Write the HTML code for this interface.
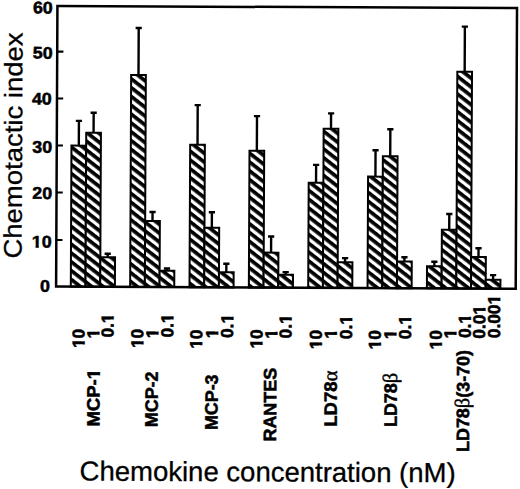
<!DOCTYPE html><html><head><meta charset="utf-8"><title>Chemotactic index chart</title><style>html,body{margin:0;padding:0;background:#fff;width:520px;height:489px;overflow:hidden}svg{display:block}text{font-family:"Liberation Sans",sans-serif}</style></head><body>
<svg width="520" height="489" viewBox="0 0 520 489">
<defs><pattern id="h" patternUnits="userSpaceOnUse" width="40" height="6.972" patternTransform="rotate(37.60) translate(0 2.413)"><rect x="0" y="0" width="40" height="6.972" fill="#fff"/><rect x="0" y="0" width="40" height="3.695" fill="#000"/></pattern></defs>
<rect width="520" height="489" fill="#fff"/>
<g transform="rotate(0.270 260.0 245.0)">
<path d="M78.35 146.46V121.76M75.25 121.76H81.45" stroke="#000" stroke-width="2.4" fill="none"/>
<rect x="71.00" y="146.46" width="14.70" height="141.04" fill="url(#h)" stroke="#000" stroke-width="2.0"/>
<path d="M93.05 133.49V113.59M89.95 113.59H96.15" stroke="#000" stroke-width="2.4" fill="none"/>
<rect x="85.70" y="133.49" width="14.70" height="154.01" fill="url(#h)" stroke="#000" stroke-width="2.0"/>
<path d="M107.75 258.02V254.42M104.65 254.42H110.85" stroke="#000" stroke-width="2.4" fill="none"/>
<rect x="100.40" y="258.02" width="14.70" height="29.48" fill="url(#h)" stroke="#000" stroke-width="2.0"/>
<path d="M137.70 75.58V28.58M134.60 28.58H140.80" stroke="#000" stroke-width="2.4" fill="none"/>
<rect x="130.35" y="75.58" width="14.70" height="211.92" fill="url(#h)" stroke="#000" stroke-width="2.0"/>
<path d="M152.40 221.51V212.51M149.30 212.51H155.50" stroke="#000" stroke-width="2.4" fill="none"/>
<rect x="145.05" y="221.51" width="14.70" height="65.99" fill="url(#h)" stroke="#000" stroke-width="2.0"/>
<path d="M167.10 271.24V268.94M164.00 268.94H170.20" stroke="#000" stroke-width="2.4" fill="none"/>
<rect x="159.75" y="271.24" width="14.70" height="16.26" fill="url(#h)" stroke="#000" stroke-width="2.0"/>
<path d="M197.05 145.00V105.40M193.95 105.40H200.15" stroke="#000" stroke-width="2.4" fill="none"/>
<rect x="189.70" y="145.00" width="14.70" height="142.50" fill="url(#h)" stroke="#000" stroke-width="2.0"/>
<path d="M211.75 228.03V212.43M208.65 212.43H214.85" stroke="#000" stroke-width="2.4" fill="none"/>
<rect x="204.40" y="228.03" width="14.70" height="59.47" fill="url(#h)" stroke="#000" stroke-width="2.0"/>
<path d="M226.45 272.36V263.86M223.35 263.86H229.55" stroke="#000" stroke-width="2.4" fill="none"/>
<rect x="219.10" y="272.36" width="14.70" height="15.14" fill="url(#h)" stroke="#000" stroke-width="2.0"/>
<path d="M256.40 150.82V116.12M253.30 116.12H259.50" stroke="#000" stroke-width="2.4" fill="none"/>
<rect x="249.05" y="150.82" width="14.70" height="136.68" fill="url(#h)" stroke="#000" stroke-width="2.0"/>
<path d="M271.10 252.55V236.45M268.00 236.45H274.20" stroke="#000" stroke-width="2.4" fill="none"/>
<rect x="263.75" y="252.55" width="14.70" height="34.95" fill="url(#h)" stroke="#000" stroke-width="2.0"/>
<path d="M285.80 274.58V271.98M282.70 271.98H288.90" stroke="#000" stroke-width="2.4" fill="none"/>
<rect x="278.45" y="274.58" width="14.70" height="12.92" fill="url(#h)" stroke="#000" stroke-width="2.0"/>
<path d="M315.75 182.44V164.64M312.65 164.64H318.85" stroke="#000" stroke-width="2.4" fill="none"/>
<rect x="308.40" y="182.44" width="14.70" height="105.06" fill="url(#h)" stroke="#000" stroke-width="2.0"/>
<path d="M330.45 128.37V113.07M327.35 113.07H333.55" stroke="#000" stroke-width="2.4" fill="none"/>
<rect x="323.10" y="128.37" width="14.70" height="159.13" fill="url(#h)" stroke="#000" stroke-width="2.0"/>
<path d="M345.15 261.80V257.70M342.05 257.70H348.25" stroke="#000" stroke-width="2.4" fill="none"/>
<rect x="337.80" y="261.80" width="14.70" height="25.70" fill="url(#h)" stroke="#000" stroke-width="2.0"/>
<path d="M375.10 176.06V149.66M372.00 149.66H378.20" stroke="#000" stroke-width="2.4" fill="none"/>
<rect x="367.75" y="176.06" width="14.70" height="111.44" fill="url(#h)" stroke="#000" stroke-width="2.0"/>
<path d="M389.80 155.59V128.69M386.70 128.69H392.90" stroke="#000" stroke-width="2.4" fill="none"/>
<rect x="382.45" y="155.59" width="14.70" height="131.91" fill="url(#h)" stroke="#000" stroke-width="2.0"/>
<path d="M404.50 260.82V256.62M401.40 256.62H407.60" stroke="#000" stroke-width="2.4" fill="none"/>
<rect x="397.15" y="260.82" width="14.70" height="26.68" fill="url(#h)" stroke="#000" stroke-width="2.0"/>
<path d="M434.45 265.48V260.98M431.35 260.98H437.55" stroke="#000" stroke-width="2.4" fill="none"/>
<rect x="427.10" y="265.48" width="14.70" height="22.02" fill="url(#h)" stroke="#000" stroke-width="2.0"/>
<path d="M449.15 228.91V213.11M446.05 213.11H452.25" stroke="#000" stroke-width="2.4" fill="none"/>
<rect x="441.80" y="228.91" width="14.70" height="58.59" fill="url(#h)" stroke="#000" stroke-width="2.0"/>
<path d="M463.85 70.84V25.64M460.75 25.64H466.95" stroke="#000" stroke-width="2.4" fill="none"/>
<rect x="456.50" y="70.84" width="14.70" height="216.66" fill="url(#h)" stroke="#000" stroke-width="2.0"/>
<path d="M478.55 255.97V247.27M475.45 247.27H481.65" stroke="#000" stroke-width="2.4" fill="none"/>
<rect x="471.20" y="255.97" width="14.70" height="31.53" fill="url(#h)" stroke="#000" stroke-width="2.0"/>
<path d="M493.25 278.70V274.00M490.15 274.00H496.35" stroke="#000" stroke-width="2.4" fill="none"/>
<rect x="485.90" y="278.70" width="14.70" height="8.80" fill="url(#h)" stroke="#000" stroke-width="2.0"/>
<rect x="56.30" y="6.90" width="459.60" height="280.60" fill="none" stroke="#000" stroke-width="2.5"/>
<path d="M56.30 52.64H62.50" stroke="#000" stroke-width="2.2"/>
<path d="M56.30 99.44H62.50" stroke="#000" stroke-width="2.2"/>
<path d="M56.30 146.44H62.50" stroke="#000" stroke-width="2.2"/>
<path d="M56.30 193.44H62.50" stroke="#000" stroke-width="2.2"/>
<path d="M56.30 240.94H62.50" stroke="#000" stroke-width="2.2"/>
</g>
<g transform="translate(49.87 291.82) rotate(0.270) scale(1.000 0.950)"><text x="-9.90" y="0" font-size="17.80" font-weight="bold" stroke="#000" stroke-width="0.55">0</text>
</g>
<g transform="translate(51.61 247.56) rotate(0.270) scale(1.000 0.950)"><text x="-19.80" y="0" font-size="17.80" font-weight="bold" stroke="#000" stroke-width="0.55">10</text>
<rect x="-19.68" y="-2.92" width="3.61" height="4.62" fill="#fff"/>
<rect x="-12.78" y="-2.92" width="3.38" height="4.62" fill="#fff"/>
</g>
<g transform="translate(52.06 198.95) rotate(0.270) scale(1.000 0.950)"><text x="-19.80" y="0" font-size="17.80" font-weight="bold" stroke="#000" stroke-width="0.55">20</text>
</g>
<g transform="translate(52.12 152.91) rotate(0.270) scale(1.000 0.950)"><text x="-19.80" y="0" font-size="17.80" font-weight="bold" stroke="#000" stroke-width="0.55">30</text>
</g>
<g transform="translate(51.73 104.62) rotate(0.270) scale(1.000 0.950)"><text x="-19.80" y="0" font-size="17.80" font-weight="bold" stroke="#000" stroke-width="0.55">40</text>
</g>
<g transform="translate(52.54 58.69) rotate(0.270) scale(1.000 0.950)"><text x="-19.80" y="0" font-size="17.80" font-weight="bold" stroke="#000" stroke-width="0.55">50</text>
</g>
<g transform="translate(52.72 13.44) rotate(0.270) scale(1.000 0.950)"><text x="-19.80" y="0" font-size="17.80" font-weight="bold" stroke="#000" stroke-width="0.55">60</text>
</g>
<text transform="translate(21.50 258.60) rotate(-89.730) scale(1 0.92)" font-size="27.50" stroke="#000" stroke-width="0.30">Chemotactic index</text>
<text transform="translate(79.60 480.50) rotate(0.270)" font-size="27.50" stroke="#000" stroke-width="0.30">Chemokine concentration (nM)</text>
<g transform="translate(84.55 348.08) rotate(-89.730)"><text x="0.00" y="0" font-size="17.30" font-weight="bold" stroke="#000" stroke-width="0.55">10</text>
<rect x="0.09" y="-2.87" width="3.52" height="4.57" fill="#fff"/>
<rect x="6.84" y="-2.87" width="3.30" height="4.57" fill="#fff"/>
</g>
<g transform="translate(99.25 338.46) rotate(-89.730)"><text x="0.00" y="0" font-size="17.30" font-weight="bold" stroke="#000" stroke-width="0.55">1</text>
<rect x="0.09" y="-2.87" width="3.52" height="4.57" fill="#fff"/>
<rect x="6.84" y="-2.87" width="3.30" height="4.57" fill="#fff"/>
</g>
<g transform="translate(113.50 337.57) rotate(-89.730)"><text x="0.00" y="0" font-size="17.30" font-weight="bold" stroke="#000" stroke-width="0.55">0.1</text>
<rect x="14.52" y="-2.87" width="3.52" height="4.57" fill="#fff"/>
<rect x="21.26" y="-2.87" width="3.30" height="4.57" fill="#fff"/>
</g>
<g transform="translate(143.22 348.08) rotate(-89.730)"><text x="0.00" y="0" font-size="17.30" font-weight="bold" stroke="#000" stroke-width="0.55">10</text>
<rect x="0.09" y="-2.87" width="3.52" height="4.57" fill="#fff"/>
<rect x="6.84" y="-2.87" width="3.30" height="4.57" fill="#fff"/>
</g>
<g transform="translate(158.15 338.25) rotate(-89.730)"><text x="0.00" y="0" font-size="17.30" font-weight="bold" stroke="#000" stroke-width="0.55">1</text>
<rect x="0.09" y="-2.87" width="3.52" height="4.57" fill="#fff"/>
<rect x="6.84" y="-2.87" width="3.30" height="4.57" fill="#fff"/>
</g>
<g transform="translate(173.30 337.57) rotate(-89.730)"><text x="0.00" y="0" font-size="17.30" font-weight="bold" stroke="#000" stroke-width="0.55">0.1</text>
<rect x="14.52" y="-2.87" width="3.52" height="4.57" fill="#fff"/>
<rect x="21.26" y="-2.87" width="3.30" height="4.57" fill="#fff"/>
</g>
<g transform="translate(202.11 348.77) rotate(-89.730)"><text x="0.00" y="0" font-size="17.30" font-weight="bold" stroke="#000" stroke-width="0.55">10</text>
<rect x="0.09" y="-2.87" width="3.52" height="4.57" fill="#fff"/>
<rect x="6.84" y="-2.87" width="3.30" height="4.57" fill="#fff"/>
</g>
<g transform="translate(217.95 338.25) rotate(-89.730)"><text x="0.00" y="0" font-size="17.30" font-weight="bold" stroke="#000" stroke-width="0.55">1</text>
<rect x="0.09" y="-2.87" width="3.52" height="4.57" fill="#fff"/>
<rect x="6.84" y="-2.87" width="3.30" height="4.57" fill="#fff"/>
</g>
<g transform="translate(233.10 338.02) rotate(-89.730)"><text x="0.00" y="0" font-size="17.30" font-weight="bold" stroke="#000" stroke-width="0.55">0.1</text>
<rect x="14.52" y="-2.87" width="3.52" height="4.57" fill="#fff"/>
<rect x="21.26" y="-2.87" width="3.30" height="4.57" fill="#fff"/>
</g>
<g transform="translate(262.33 348.56) rotate(-89.730)"><text x="0.00" y="0" font-size="17.30" font-weight="bold" stroke="#000" stroke-width="0.55">10</text>
<rect x="0.09" y="-2.87" width="3.52" height="4.57" fill="#fff"/>
<rect x="6.84" y="-2.87" width="3.30" height="4.57" fill="#fff"/>
</g>
<g transform="translate(277.30 338.70) rotate(-89.730)"><text x="0.00" y="0" font-size="17.30" font-weight="bold" stroke="#000" stroke-width="0.55">1</text>
<rect x="0.09" y="-2.87" width="3.52" height="4.57" fill="#fff"/>
<rect x="6.84" y="-2.87" width="3.30" height="4.57" fill="#fff"/>
</g>
<g transform="translate(291.55 338.46) rotate(-89.730)"><text x="0.00" y="0" font-size="17.30" font-weight="bold" stroke="#000" stroke-width="0.55">0.1</text>
<rect x="14.52" y="-2.87" width="3.52" height="4.57" fill="#fff"/>
<rect x="21.26" y="-2.87" width="3.30" height="4.57" fill="#fff"/>
</g>
<g transform="translate(321.71 349.22) rotate(-89.730)"><text x="0.00" y="0" font-size="17.30" font-weight="bold" stroke="#000" stroke-width="0.55">10</text>
<rect x="0.09" y="-2.87" width="3.52" height="4.57" fill="#fff"/>
<rect x="6.84" y="-2.87" width="3.30" height="4.57" fill="#fff"/>
</g>
<g transform="translate(336.65 338.70) rotate(-89.730)"><text x="0.00" y="0" font-size="17.30" font-weight="bold" stroke="#000" stroke-width="0.55">1</text>
<rect x="0.09" y="-2.87" width="3.52" height="4.57" fill="#fff"/>
<rect x="6.84" y="-2.87" width="3.30" height="4.57" fill="#fff"/>
</g>
<g transform="translate(352.01 339.15) rotate(-89.730)"><text x="0.00" y="0" font-size="17.30" font-weight="bold" stroke="#000" stroke-width="0.55">0.1</text>
<rect x="14.52" y="-2.87" width="3.52" height="4.57" fill="#fff"/>
<rect x="21.26" y="-2.87" width="3.30" height="4.57" fill="#fff"/>
</g>
<g transform="translate(380.64 349.44) rotate(-89.730)"><text x="0.00" y="0" font-size="17.30" font-weight="bold" stroke="#000" stroke-width="0.55">10</text>
<rect x="0.09" y="-2.87" width="3.52" height="4.57" fill="#fff"/>
<rect x="6.84" y="-2.87" width="3.30" height="4.57" fill="#fff"/>
</g>
<g transform="translate(396.24 339.36) rotate(-89.730)"><text x="0.00" y="0" font-size="17.30" font-weight="bold" stroke="#000" stroke-width="0.55">1</text>
<rect x="0.09" y="-2.87" width="3.52" height="4.57" fill="#fff"/>
<rect x="6.84" y="-2.87" width="3.30" height="4.57" fill="#fff"/>
</g>
<g transform="translate(410.94 339.15) rotate(-89.730)"><text x="0.00" y="0" font-size="17.30" font-weight="bold" stroke="#000" stroke-width="0.55">0.1</text>
<rect x="14.52" y="-2.87" width="3.52" height="4.57" fill="#fff"/>
<rect x="21.26" y="-2.87" width="3.30" height="4.57" fill="#fff"/>
</g>
<g transform="translate(441.70 349.46) rotate(-89.730)"><text x="0.00" y="0" font-size="17.30" font-weight="bold" stroke="#000" stroke-width="0.55">10</text>
<rect x="0.09" y="-2.87" width="3.52" height="4.57" fill="#fff"/>
<rect x="6.84" y="-2.87" width="3.30" height="4.57" fill="#fff"/>
</g>
<g transform="translate(456.20 338.55) rotate(-89.730)"><text x="0.00" y="0" font-size="17.30" font-weight="bold" stroke="#000" stroke-width="0.55">1</text>
<rect x="0.09" y="-2.87" width="3.52" height="4.57" fill="#fff"/>
<rect x="6.84" y="-2.87" width="3.30" height="4.57" fill="#fff"/>
</g>
<g transform="translate(470.68 338.07) rotate(-89.730)"><text x="0.00" y="0" font-size="17.30" font-weight="bold" stroke="#000" stroke-width="0.55">0.1</text>
<rect x="14.52" y="-2.87" width="3.52" height="4.57" fill="#fff"/>
<rect x="21.26" y="-2.87" width="3.30" height="4.57" fill="#fff"/>
</g>
<g transform="translate(485.11 338.76) rotate(-89.730)"><text x="0.00" y="0" font-size="17.30" font-weight="bold" stroke="#000" stroke-width="0.55">0.01</text>
<rect x="24.14" y="-2.87" width="3.52" height="4.57" fill="#fff"/>
<rect x="30.89" y="-2.87" width="3.30" height="4.57" fill="#fff"/>
</g>
<g transform="translate(499.96 338.19) rotate(-89.730)"><text x="0.00" y="0" font-size="17.30" font-weight="bold" stroke="#000" stroke-width="0.55">0.001</text>
<rect x="33.76" y="-2.87" width="3.52" height="4.57" fill="#fff"/>
<rect x="40.51" y="-2.87" width="3.30" height="4.57" fill="#fff"/>
</g>
<g transform="translate(99.43 426.62) rotate(-89.730) scale(1.035 1.000)"><text x="0.00" y="0" font-size="17.90" font-weight="bold" stroke="#000" stroke-width="0.55">MCP-1</text>
<rect x="45.87" y="-2.93" width="3.63" height="4.63" fill="#fff"/>
<rect x="52.80" y="-2.93" width="3.40" height="4.63" fill="#fff"/>
</g>
<g transform="translate(157.61 427.15) rotate(-89.730)"><text x="0.00" y="0" font-size="17.90" font-weight="bold" stroke="#000" stroke-width="0.55">MCP-2</text>
</g>
<g transform="translate(217.53 430.09) rotate(-89.730)"><text x="0.00" y="0" font-size="17.90" font-weight="bold" stroke="#000" stroke-width="0.55">MCP-3</text>
</g>
<g transform="translate(276.04 441.49) rotate(-89.730)"><text x="0.00" y="0" font-size="17.90" font-weight="bold" stroke="#000" stroke-width="0.55">RANTES</text>
</g>
<g transform="translate(336.71 426.66) rotate(-89.730) scale(1.030 1.000)"><text x="0.00" y="0" font-size="17.90" font-weight="bold" stroke="#000" stroke-width="0.55">LD78<tspan font-family="Liberation Serif" font-weight="normal" font-size="20.5" stroke-width="0.4">&#945;</tspan></text>
</g>
<g transform="translate(396.70 426.99) rotate(-89.730)"><text x="0.00" y="0" font-size="17.90" font-weight="bold" stroke="#000" stroke-width="0.55">LD78<tspan font-family="Liberation Serif" font-weight="normal" font-size="20.5" stroke-width="0.45">&#946;</tspan></text>
</g>
<g transform="translate(468.88 451.95) rotate(-89.730)"><text x="0.00" y="0" font-size="17.90" font-weight="bold" stroke="#000" stroke-width="0.55">LD78<tspan font-family="Liberation Serif" font-weight="normal" font-size="20.5" stroke-width="0.45">&#946;</tspan>(3-70)</text>
</g>
</svg></body></html>
